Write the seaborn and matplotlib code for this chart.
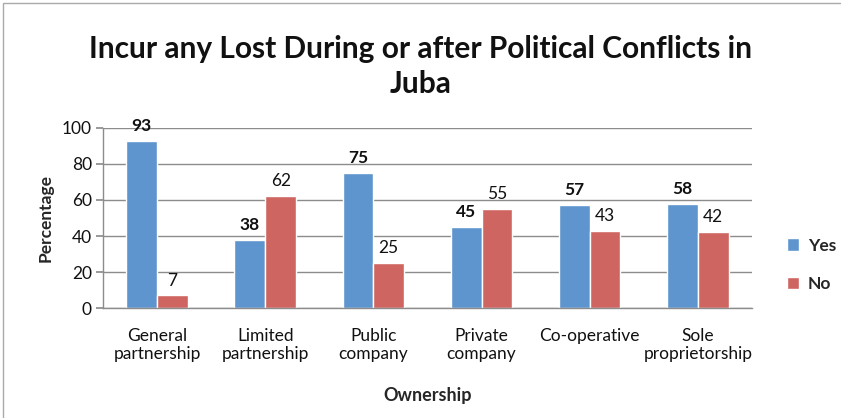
import matplotlib
matplotlib.use("Agg")
import matplotlib.pyplot as plt
import seaborn as sns
import pandas as pd
from matplotlib.patches import Rectangle

categories = ["General\npartnership", "Limited\npartnership", "Public\ncompany",
              "Private\ncompany", "Co-operative", "Sole\nproprietorship"]
yes_values = [93, 38, 75, 45, 57, 58]
no_values = [7, 62, 25, 55, 43, 42]
series_names = ["Yes", "No"]
y_ticks = [0, 20, 40, 60, 80, 100]

df = pd.DataFrame({
    "Ownership": categories * 2,
    "Percentage": yes_values + no_values,
    "Series": ["Yes"] * len(categories) + ["No"] * len(categories),
})

sns.set_theme(style="white")
plt.rcParams["font.family"] = ["Lato", "DejaVu Sans"]

fig = plt.figure(figsize=(8.41, 4.18), dpi=100)
ax = fig.add_axes([0.1225, 0.263, 0.7715, 0.431])

palette = {"Yes": "#5E95CE", "No": "#CF6560"}
sns.barplot(data=df, x="Ownership", y="Percentage", hue="Series",
            hue_order=series_names, palette=palette, width=0.57,
            saturation=1, ax=ax, legend=True)

ax.set_ylim(0, 100)
ax.set_yticks(y_ticks)
ax.yaxis.grid(True, color="#8c8c8c", linewidth=1.0)
ax.set_axisbelow(True)
for side in ["top", "right"]:
    ax.spines[side].set_visible(False)
for side in ["left", "bottom"]:
    ax.spines[side].set_color("#8c8c8c")
    ax.spines[side].set_linewidth(1.0)
ax.tick_params(axis="y", left=True, length=5, color="#8c8c8c", labelsize=12.5, pad=3)
ax.tick_params(axis="x", bottom=False, labelsize=12.5, pad=8)
for lbl in ax.get_yticklabels() + ax.get_xticklabels():
    lbl.set_color("#111111")

ax.set_xlabel("Ownership", fontsize=13, fontweight="bold", labelpad=18)
ax.set_ylabel("Percentage", fontsize=12.5, fontweight="bold", labelpad=6)

for container, name in zip(ax.containers, series_names):
    ax.bar_label(container, fmt="%d", padding=5, fontsize=12.5,
                 fontweight="bold" if name == "Yes" else "normal", color="#111111")

ax.legend(loc="center left", bbox_to_anchor=(1.03, 0.24), frameon=False,
          handlelength=0.7, handleheight=0.7, labelspacing=1.3,
          handletextpad=0.5, prop={"weight": "bold", "size": 12.5})

fig.text(0.5, 0.84, "Incur any Lost During or after Political Conflicts in\nJuba",
         ha="center", va="center", fontsize=21.5, fontweight="bold",
         linespacing=1.3, color="#111111")

fig.patches.append(Rectangle((0.003, -0.05), 1.2, 1.043, transform=fig.transFigure,
                             fill=False, edgecolor="#aaaaaa", linewidth=1.0))

fig.savefig("out.png", dpi=100)
